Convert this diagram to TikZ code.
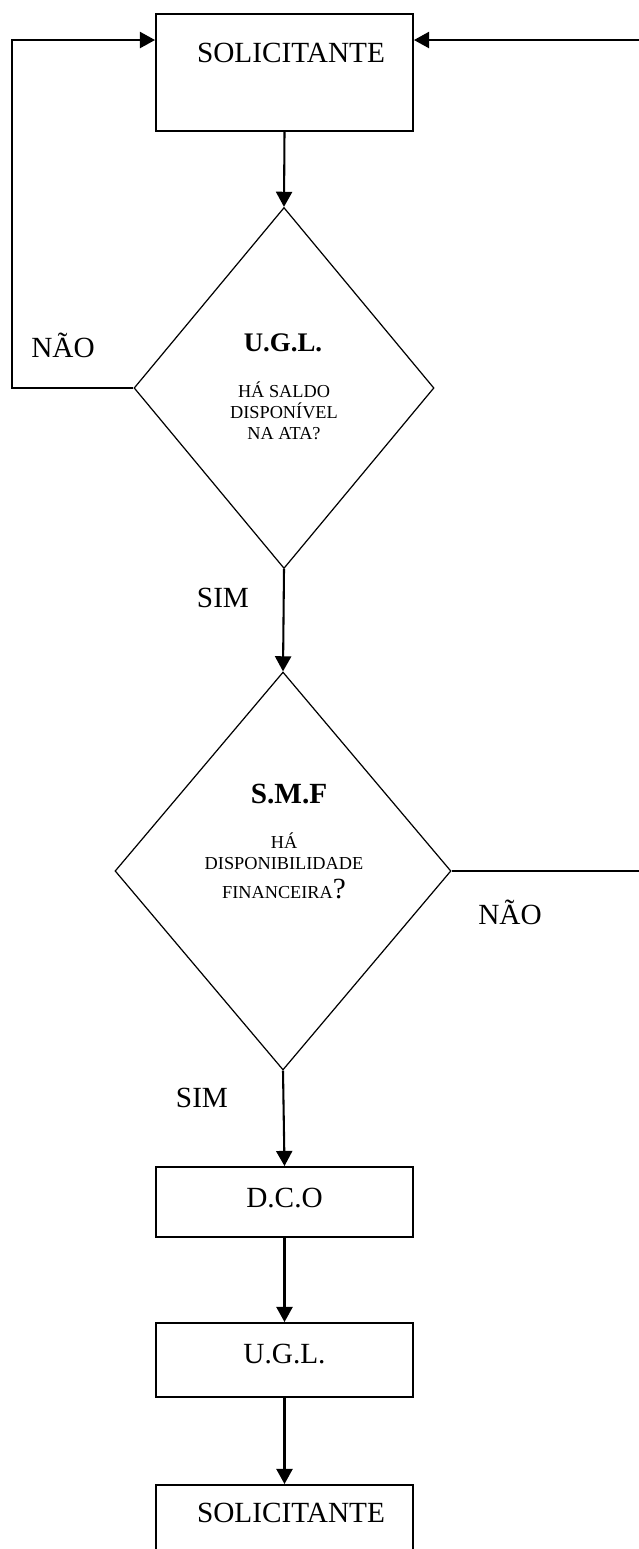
\documentclass[tikz,border=0pt]{standalone}
\usepackage{fontspec}
\setmainfont{Liberation Serif}
\usetikzlibrary{shapes.geometric, arrows.meta}
\newcommand{\px}{0.41pt}
\newcommand{\boxwid}{257}
\newcommand{\bigfont}{\fontsize{12}{14}\selectfont}
\newcommand{\tinyfont}{\fontsize{7.5}{8.6}\selectfont}

\begin{document}
\begin{tikzpicture}[x=\px, y=-\px, >={Triangle[length=6.2pt, width=6.6pt]},
    box/.style={draw, line width=0.8pt, minimum width=\boxwid*\px, inner sep=0pt},
    decision/.style={draw, diamond, line width=0.5pt, inner sep=0pt},
    flow/.style={->, line width=0.85pt},
    txt/.style={font=\bigfont},
    head/.style={font=\bfseries\bigfont},
    qtext/.style={align=center, font=\tinyfont, inner sep=0pt}]
    \useasboundingbox (0, 0) rectangle (638, 1549);

    % boxes
    \node[box, minimum height=117*\px] (sol1) at (284.5, 72.5) {};
    \node[box, minimum height=70*\px] (dco) at (284.5, 1202) {};
    \node[box, minimum height=74*\px] (ugl) at (284.5, 1360) {};
    \node[box, minimum height=117*\px] (sol2) at (284.5, 1543.5) {};
    \node[txt] (sol1txt) at (291, 53) {SOLICITANTE};
    \node[txt] (dcotxt) at (284.5, 1198) {D.C.O};
    \node[txt] (ugltxt) at (284.5, 1354) {U.G.L.};
    \node[txt] (sol2txt) at (291, 1513) {SOLICITANTE};

    % decisions
    \node[decision, minimum width=300*\px, minimum height=361*\px] (dec1) at (284, 388) {};
    \node[decision, minimum width=336*\px, minimum height=398*\px] (dec2) at (283, 871) {};
    \node[head, font=\bfseries\fontsize{11}{13}\selectfont] (dec1head) at (283, 343) {U.G.L.};
    \node[qtext] (dec1q) at (284, 411) {HÁ SALDO\\DISPONÍVEL\\NA ATA?};
    \node[head] (dec2head) at (289, 794) {S.M.F};
    \node[qtext] (dec2q) at (284, 866) {HÁ\\DISPONIBILIDADE\\[3.5pt]FINANCEIRA{\bigfont ?}};

    % labels
    \node[txt] (no1) at (63, 345) {NÃO};
    \node[txt] (yes1) at (223, 598) {SIM};
    \node[txt] (no2) at (510, 912) {NÃO};
    \node[txt] (yes2) at (202, 1098) {SIM};

    % connectors
    \coordinate (inL) at ([yshift=-27*\px]sol1.north west);
    \coordinate (inR) at ([yshift=-27*\px]sol1.north east);
    \coordinate (loopL) at (12, 388);
    \coordinate (loopR) at (660, 871);
    \draw[flow] (sol1.south) -- (dec1.north);
    \draw[flow] (dec1.south) -- (dec2.north);
    \draw[flow] (dec2.south) -- (dco.north);
    \draw[flow] (dco.south) -- (ugl.north);
    \draw[flow] (ugl.south) -- (sol2.north);
    \draw[flow] (dec1.west) -- (loopL) |- (inL);
    \draw[flow] (dec2.east) -- (loopR) |- (inR);
\end{tikzpicture}
\end{document}
